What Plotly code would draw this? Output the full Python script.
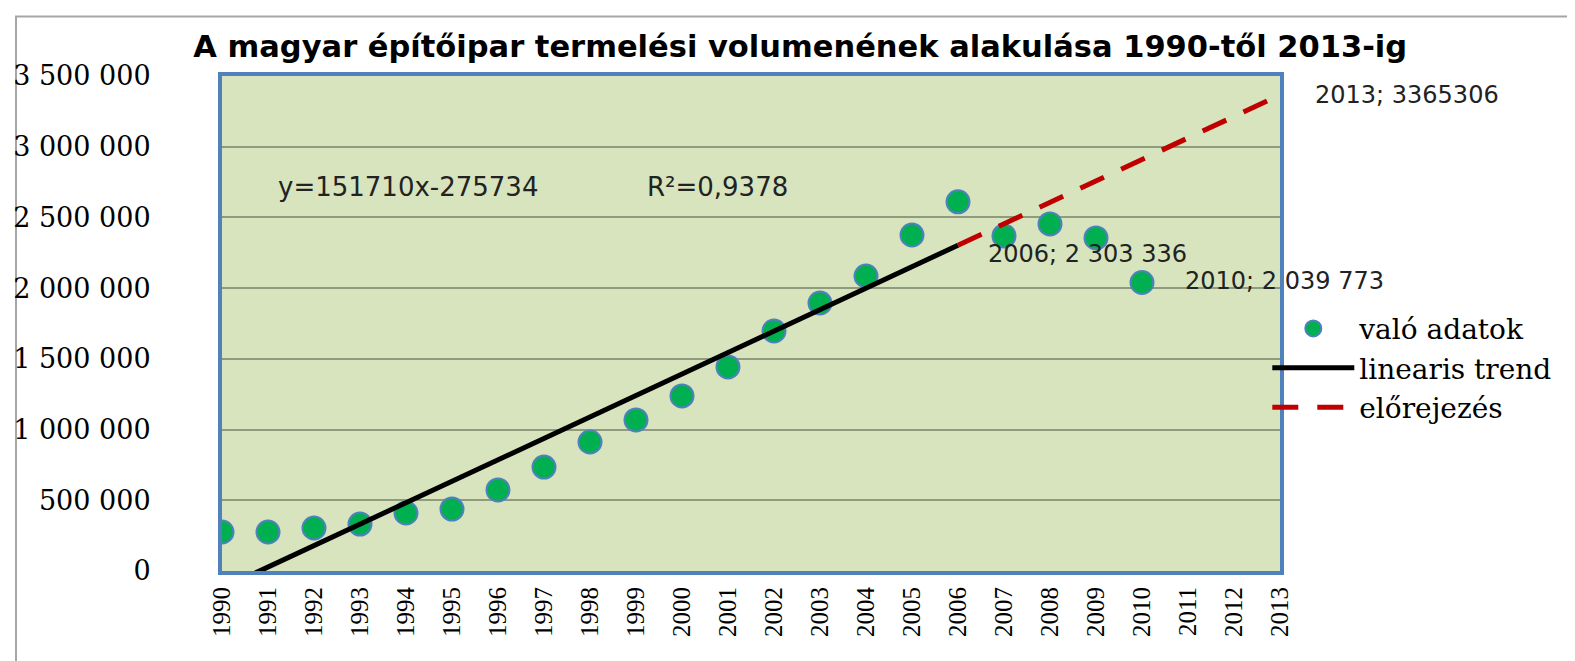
import plotly.graph_objects as go

# ---- data ----
years = list(range(1990, 2014))
year_labels = [str(y) for y in years]
actual_years = list(range(1990, 2011))
actual_values = [276000, 276000, 304000, 332000, 410000, 438000, 573000, 735000,
                 912000, 1068000, 1238000, 1443000, 1697000, 1895000, 2086000,
                 2376000, 2610000, 2369000, 2454000, 2355000, 2039773]
trend_years = [1990, 2006]
trend_values = [-124024, 2303336]
forecast_years = [2006, 2013]
forecast_values = [2303336, 3365306]
y_tickvals = [0, 500000, 1000000, 1500000, 2000000, 2500000, 3000000, 3500000]
y_ticktext = ["0", "500 000", "1 000 000", "1 500 000", "2 000 000",
              "2 500 000", "3 000 000", "3 500 000"]
labels = [(2013, 3365306, "2013; 3365306"),
          (2006, 2303336, "2006; 2 303 336"),
          (2010, 2039773, "2010; 2 039 773")]
title_text = "A magyar építőipar termelési volumenének alakulása 1990-től 2013-ig"
equation_text = "y=151710x-275734"
r2_text = "R²=0,9378"

fig = go.Figure()
fig.add_trace(go.Scatter(
    x=actual_years, y=actual_values, mode="markers", name="való adatok",
    marker=dict(size=23, color="#00B050", line=dict(color="#4F81BD", width=2)),
))
fig.add_trace(go.Scatter(
    x=trend_years, y=trend_values, mode="lines", name="linearis trend",
    line=dict(color="black", width=5),
))
fig.add_trace(go.Scatter(
    x=forecast_years, y=forecast_values, mode="lines", name="előrejezés",
    line=dict(color="#C00000", width=5, dash="26px,19px"),
))

ann = []
shifts = {2013: (33, 0), 2006: (28, -9), 2010: (41, 2)}
for (lx, ly, lt) in labels:
    dx, dy = shifts[lx]
    ann.append(dict(x=lx, y=ly, xref="x", yref="y", text=lt, showarrow=False,
                    xanchor="left", yanchor="middle", xshift=dx, yshift=dy,
                    font=dict(family="DejaVu Sans", size=24, color="#222222")))
ann.append(dict(x=0.051, y=0.775, xref="paper", yref="paper", text=equation_text,
                showarrow=False, xanchor="left", yanchor="middle",
                font=dict(family="DejaVu Sans", size=26, color="#222222")))
ann.append(dict(x=0.400, y=0.775, xref="paper", yref="paper", text=r2_text,
                showarrow=False, xanchor="left", yanchor="middle",
                font=dict(family="DejaVu Sans", size=26, color="#222222")))

fig.update_layout(
    width=1575, height=661,
    margin=dict(l=214, r=303, t=68, b=98, autoexpand=False),
    paper_bgcolor="white",
    plot_bgcolor="#D7E4BD",
    title=dict(text="<b>" + title_text + "</b>", x=0.503, xanchor="center",
               y=1 - 38 / 661, yanchor="middle",
               font=dict(family="DejaVu Sans", size=30.5, color="black")),
    showlegend=True,
    legend=dict(x=0.988, y=0.54, xanchor="left", yanchor="top",
                bgcolor="rgba(0,0,0,0)", itemwidth=82, tracegroupgap=0,
                font=dict(family="DejaVu Serif", size=28, color="black")),
    annotations=ann,
    shapes=[dict(type="rect", xref="paper", yref="paper",
                 x0=-0.1947, x1=1.45, y0=-0.35, y1=1.12,
                 line=dict(color="#A6A6A6", width=2), fillcolor="rgba(0,0,0,0)",
                 layer="below")],
)
fig.update_xaxes(
    range=[1990, 2013], tickmode="array", tickvals=years, ticktext=year_labels,
    tickangle=-90, showgrid=False, zeroline=False, automargin=False,
    showline=True, linecolor="#4F81BD", linewidth=4, mirror=True,
    ticks="", ticklabelstandoff=2,
    tickfont=dict(family="Liberation Serif", size=25, color="black"),
)
fig.update_yaxes(
    range=[0, 3500000], tickmode="array", tickvals=y_tickvals, ticktext=y_ticktext,
    showgrid=True, gridcolor="#8E9B7C", gridwidth=1.5, zeroline=False, automargin=False,
    showline=True, linecolor="#4F81BD", linewidth=4, mirror=True,
    ticks="", ticklabelstandoff=62,
    tickfont=dict(family="DejaVu Serif", size=27, color="black"),
)

fig.write_html("out.html")
